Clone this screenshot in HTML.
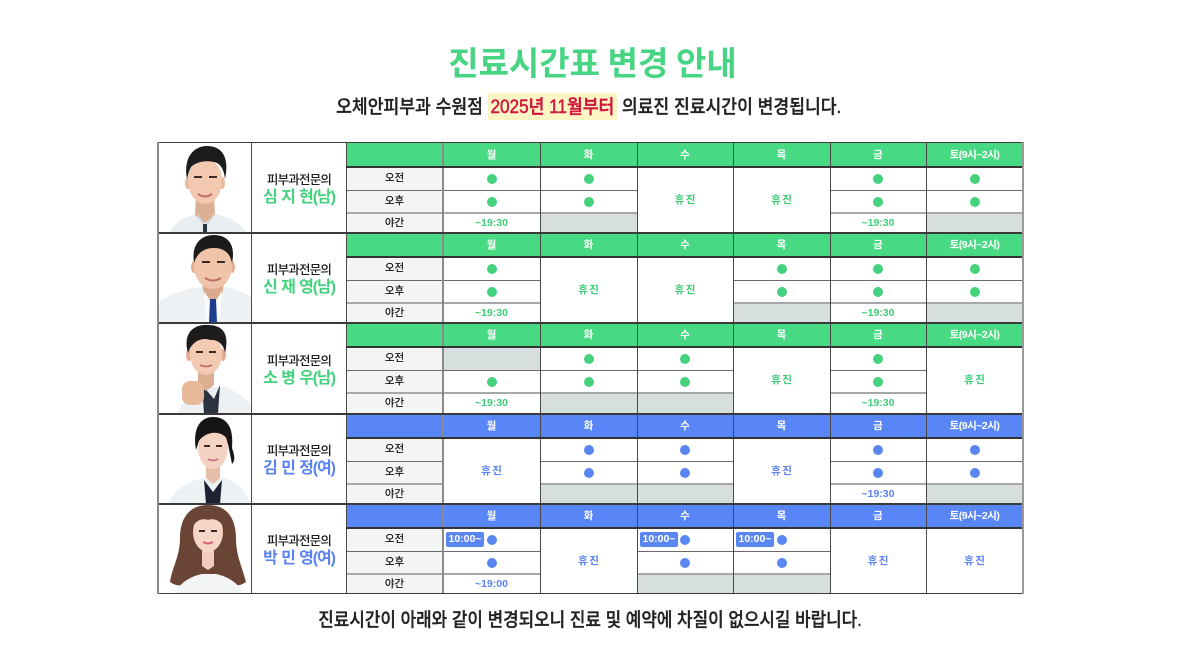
<!DOCTYPE html>
<html lang="ko">
<head>
<meta charset="utf-8">
<style>
html,body{margin:0;padding:0;}
body{width:1182px;height:656px;background:#fff;position:relative;overflow:hidden;font-family:"Liberation Sans","Noto Sans CJK KR",sans-serif;}
.a{position:absolute;}
.c{position:absolute;display:flex;align-items:center;justify-content:center;line-height:1;box-sizing:border-box;white-space:nowrap;}
.hs{position:absolute;height:24px;}
.hg{background:#48d983;}
.hb{background:#5986f6;}
.hd{color:#fff;font-weight:700;font-size:10.5px;}
.lbg{position:absolute;left:346px;width:97px;background:#f3f5f3;}
.lb{font-size:10.5px;color:#111;font-weight:500;}
.gr{position:absolute;background:#d6dfde;}
.vl{position:absolute;top:143px;height:451px;width:1px;background:#484848;}
.hl{position:absolute;height:1px;background:#6a6a6a;}
.hl2{position:absolute;height:2px;background:#a8a8a8;}
.sep{position:absolute;left:157px;width:866px;height:2px;background:#3a3a3a;}
.hbl{position:absolute;left:346px;width:677px;height:2px;background:#333;}
i.dg,i.db{display:block;width:10px;height:10px;border-radius:50%;}
i.dg{background:#45d27e;}
i.db{background:#5a86f2;}
.tg{color:#3ecd77;font-weight:700;font-size:10.5px;}
.tb{color:#5a83ee;font-weight:700;font-size:10.5px;}
.hz{letter-spacing:1.5px;padding-left:1.5px;}
.nm{position:absolute;left:252px;width:94px;display:flex;flex-direction:column;align-items:center;justify-content:center;padding-top:3px;box-sizing:border-box;}
.nm .t1{font-size:12.5px;letter-spacing:-0.8px;color:#1a1a1a;line-height:17px;font-weight:500;}
.nm .t2{font-size:16px;letter-spacing:-1.1px;word-spacing:1px;font-weight:700;line-height:18px;}
.badge{position:absolute;width:38px;height:15px;background:#5a86f2;border-radius:2px;color:#fff;font-weight:700;font-size:10.5px;display:flex;align-items:center;justify-content:center;line-height:1;}
.ph{position:absolute;left:158px;width:94px;height:90px;}
</style>
</head>
<body>

<!-- Title -->
<div class="a" style="left:1.5px;top:46.6px;width:1182px;text-align:center;font-size:33px;line-height:1;font-weight:700;color:#47d584;word-spacing:-1.5px;">진료시간표 변경 안내</div>

<!-- Subtitle -->
<div class="a" style="left:-2px;top:98px;width:1182px;text-align:center;font-size:19px;line-height:1;">
<span style="display:inline-block;transform:scaleX(0.903);transform-origin:center;font-weight:500;color:#222;-webkit-text-stroke:0.35px #222;">오체안피부과 수원점 <span style="background:#fbf6c4;color:#d0183f;padding:4px 3px 2px;-webkit-text-stroke:0.5px #d0183f;">2025년 11월부터</span> 의료진 진료시간이 변경됩니다.</span>
</div>

<!-- Photos -->
<svg class="ph" style="top:143px" viewBox="0 0 94 90">
<path d="M12 90 C16 78 30 73 40 71 L56 71 C68 73 82 78 88 90 Z" fill="#e9eef1"/>
<path d="M38 52 L56 52 L57 72 L47 80 L37 72 Z" fill="#dcae92"/>
<path d="M40 71 L47 84 L56 71" fill="none" stroke="#c5cfd6" stroke-width="1.5"/>
<rect x="45" y="81" width="4" height="9" fill="#2a3440"/>
<ellipse cx="30" cy="40" rx="3" ry="6" fill="#e6b79c"/>
<ellipse cx="64" cy="40" rx="3" ry="6" fill="#e6b79c"/>
<ellipse cx="47" cy="38" rx="17" ry="23" fill="#f2c9b0"/>
<path d="M29 36 C25 14 36 3 49 3 C63 3 72 13 67 36 C66 26 62 20 56 19 C47 17 38 19 33 24 C31 28 30 32 29 36 Z" fill="#1d1b1c"/>
<rect x="36" y="33" width="8" height="2" fill="#3a2a25"/><rect x="51" y="33" width="8" height="2" fill="#3a2a25"/>
<path d="M40 51 Q47 56 54 51" fill="none" stroke="#c06c70" stroke-width="2"/>
</svg>

<svg class="ph" style="top:233px" viewBox="0 0 94 90">
<path d="M0 90 L0 70 C10 61 28 56 42 54 L68 54 C80 57 92 62 94 66 L94 90 Z" fill="#eef1f3"/>
<path d="M44 50 L66 50 L64 62 L55 70 L46 62 Z" fill="#dba98e"/>
<path d="M46 58 L55 72 L64 58 L62 90 L48 90 Z" fill="#fafafa"/>
<path d="M52 66 L58 66 L59 90 L51 90 Z" fill="#1c3f8c"/>
<ellipse cx="36" cy="34" rx="3" ry="6" fill="#e3ad92"/>
<ellipse cx="74" cy="34" rx="3" ry="6" fill="#e3ad92"/>
<ellipse cx="55" cy="33" rx="19" ry="23" fill="#f0c4a8"/>
<path d="M36 30 C33 10 44 2 56 2 C70 2 78 12 74 30 C72 20 66 15 56 15 C46 15 39 20 36 30 Z" fill="#1c1a1a"/>
<rect x="44" y="28" width="8" height="2" fill="#3a2a25"/><rect x="59" y="28" width="8" height="2" fill="#3a2a25"/>
<path d="M47 45 Q55 50 63 45" fill="none" stroke="#c06c70" stroke-width="2"/>
</svg>

<svg class="ph" style="top:323px" viewBox="0 0 94 90">
<path d="M20 90 C26 74 40 66 52 64 L66 64 C78 68 90 76 94 84 L94 90 Z" fill="#edf0f2"/>
<path d="M44 62 L56 76 L62 62 L60 90 L46 90 Z" fill="#2b3240"/>
<path d="M40 46 L56 46 L56 62 L48 68 L40 62 Z" fill="#dcae92"/>
<ellipse cx="31" cy="32" rx="3" ry="6" fill="#e3ad92"/>
<ellipse cx="65" cy="32" rx="3" ry="6" fill="#e3ad92"/>
<ellipse cx="48" cy="31" rx="16" ry="21" fill="#f2cbb2"/>
<path d="M30 30 C24 8 38 1 50 2 C64 2 72 10 67 30 C66 22 60 16 52 17 C44 14 34 18 30 30 Z" fill="#1d1b1c"/>
<rect x="24" y="58" width="22" height="24" rx="8" fill="#e7b899"/>
<rect x="38" y="28" width="7" height="2" fill="#3a2a25"/><rect x="51" y="28" width="7" height="2" fill="#3a2a25"/>
<path d="M42 42 Q48 45 54 42" fill="none" stroke="#b86a6a" stroke-width="1.8"/>
</svg>

<svg class="ph" style="top:414px" viewBox="0 0 94 90">
<path d="M10 90 C16 74 34 66 46 64 L64 64 C76 66 88 74 92 90 Z" fill="#eef1f3"/>
<path d="M46 66 L55 78 L64 66 L62 90 L48 90 Z" fill="#1d2230"/>
<path d="M48 48 L62 48 L62 64 L55 70 L48 64 Z" fill="#e7bfa8"/>
<path d="M38 36 C34 12 44 3 55 3 C68 3 76 12 74 34 C76 40 78 46 74 50 L70 30 C66 20 60 16 55 16 C48 16 42 22 40 30 Z" fill="#161414"/>
<ellipse cx="55" cy="34" rx="15" ry="21" fill="#f5d3c3"/>
<path d="M40 28 C40 14 48 9 56 9 C64 9 70 14 70 26 C64 16 48 16 40 28 Z" fill="#161414"/>
<rect x="46" y="31" width="6" height="2" fill="#3a2a25"/><rect x="58" y="31" width="6" height="2" fill="#3a2a25"/>
<path d="M50 45 Q55 48 60 45" fill="none" stroke="#cf6c80" stroke-width="1.8"/>
</svg>

<svg class="ph" style="top:504px" viewBox="0 0 94 90">
<path d="M50 1 C30 1 22 16 22 34 C22 52 14 64 12 78 C20 84 30 82 36 74 L64 74 C70 82 80 84 88 78 C84 62 78 52 78 34 C78 16 70 1 50 1 Z" fill="#6a4535"/>
<path d="M16 90 C22 78 34 72 44 70 L58 70 C68 72 80 78 86 90 Z" fill="#f3f4f6"/>
<path d="M44 44 L56 44 L56 62 L50 66 L44 62 Z" fill="#f0cdbd"/>
<ellipse cx="50" cy="28" rx="15" ry="20" fill="#f6d5c6"/>
<path d="M34 24 C34 10 42 5 50 5 C60 5 66 10 66 24 C62 16 56 14 50 16 C44 14 38 16 34 24 Z" fill="#6a4535"/>
<rect x="41" y="26" width="6" height="2" fill="#3a2a25"/><rect x="53" y="26" width="6" height="2" fill="#3a2a25"/>
<path d="M45 38 Q50 41 55 38" fill="none" stroke="#e0607c" stroke-width="2"/>
</svg>

<!-- Names -->
<div class="nm" style="top:143px;height:90px;"><div class="t1">피부과전문의</div><div class="t2" style="color:#45d27e;">심 지 현(남)</div></div>
<div class="nm" style="top:233px;height:90px;"><div class="t1">피부과전문의</div><div class="t2" style="color:#45d27e;">신 재 영(남)</div></div>
<div class="nm" style="top:323px;height:91px;"><div class="t1">피부과전문의</div><div class="t2" style="color:#45d27e;">소 병 우(남)</div></div>
<div class="nm" style="top:414px;height:90px;"><div class="t1">피부과전문의</div><div class="t2" style="color:#5a83ee;">김 민 정(여)</div></div>
<div class="nm" style="top:504px;height:90px;"><div class="t1">피부과전문의</div><div class="t2" style="color:#5a83ee;">박 민 영(여)</div></div>

<!-- Header strips -->
<div class="hs hg" style="left:346px;top:143px;width:677px;"></div>
<div class="hs hg" style="left:346px;top:233px;width:677px;"></div>
<div class="hs hg" style="left:346px;top:323px;width:677px;"></div>
<div class="hs hb" style="left:346px;top:414px;width:677px;"></div>
<div class="hs hb" style="left:346px;top:504px;width:677px;"></div>

<!-- Label column backgrounds -->
<div class="lbg" style="top:167px;height:66px;"></div>
<div class="lbg" style="top:257px;height:66px;"></div>
<div class="lbg" style="top:347px;height:67px;"></div>
<div class="lbg" style="top:438px;height:66px;"></div>
<div class="lbg" style="top:528px;height:66px;"></div>

<!-- Gray cells -->
<div class="gr" style="left:540px;top:213px;width:97px;height:20px;"></div>
<div class="gr" style="left:926px;top:213px;width:97px;height:20px;"></div>
<div class="gr" style="left:733px;top:303px;width:97px;height:20px;"></div>
<div class="gr" style="left:926px;top:303px;width:97px;height:20px;"></div>
<div class="gr" style="left:443px;top:347px;width:97px;height:23px;"></div>
<div class="gr" style="left:540px;top:393px;width:97px;height:21px;"></div>
<div class="gr" style="left:637px;top:393px;width:96px;height:21px;"></div>
<div class="gr" style="left:540px;top:484px;width:97px;height:20px;"></div>
<div class="gr" style="left:637px;top:484px;width:96px;height:20px;"></div>
<div class="gr" style="left:926px;top:484px;width:97px;height:20px;"></div>
<div class="gr" style="left:637px;top:574px;width:96px;height:20px;"></div>
<div class="gr" style="left:733px;top:574px;width:97px;height:20px;"></div>

<!-- Row lines -->
<div class="hl" style="left:346px;top:190px;width:291px;"></div>
<div class="hl" style="left:830px;top:190px;width:193px;"></div>
<div class="hl2" style="left:346px;top:212px;width:291px;"></div>
<div class="hl2" style="left:830px;top:212px;width:193px;"></div>
<div class="hl" style="left:346px;top:280px;width:194px;"></div>
<div class="hl" style="left:733px;top:280px;width:290px;"></div>
<div class="hl2" style="left:346px;top:302px;width:194px;"></div>
<div class="hl2" style="left:733px;top:302px;width:290px;"></div>
<div class="hl" style="left:346px;top:370px;width:387px;"></div>
<div class="hl" style="left:830px;top:370px;width:96px;"></div>
<div class="hl2" style="left:346px;top:392px;width:387px;"></div>
<div class="hl2" style="left:830px;top:392px;width:96px;"></div>
<div class="hl" style="left:346px;top:461px;width:97px;"></div>
<div class="hl" style="left:540px;top:461px;width:193px;"></div>
<div class="hl" style="left:830px;top:461px;width:193px;"></div>
<div class="hl2" style="left:346px;top:483px;width:97px;"></div>
<div class="hl2" style="left:540px;top:483px;width:193px;"></div>
<div class="hl2" style="left:830px;top:483px;width:193px;"></div>
<div class="hl" style="left:346px;top:551px;width:194px;"></div>
<div class="hl" style="left:637px;top:551px;width:193px;"></div>
<div class="hl2" style="left:346px;top:573px;width:194px;"></div>
<div class="hl2" style="left:637px;top:573px;width:193px;"></div>

<!-- Vertical lines -->
<div class="vl" style="left:251px;"></div>
<div class="vl" style="left:346px;"></div>
<div class="vl" style="left:442px;width:2px;background:#8a8a8a;"></div>
<div class="vl" style="left:540px;"></div>
<div class="vl" style="left:637px;"></div>
<div class="vl" style="left:733px;"></div>
<div class="vl" style="left:830px;"></div>
<div class="vl" style="left:926px;"></div>

<!-- Header bottom lines -->
<div class="hbl" style="top:166px;"></div>
<div class="hbl" style="top:256px;"></div>
<div class="hbl" style="top:346px;"></div>
<div class="hbl" style="top:437px;"></div>
<div class="hbl" style="top:527px;"></div>

<!-- Block separators / outer border -->
<div class="sep" style="top:142px;height:1px;"></div>
<div class="sep" style="top:232px;"></div>
<div class="sep" style="top:322px;"></div>
<div class="sep" style="top:413px;"></div>
<div class="sep" style="top:503px;"></div>
<div class="sep" style="top:593px;height:1px;"></div>
<div class="a" style="left:157px;top:142px;width:2px;height:452px;background:#8a8a8a;"></div>
<div class="a" style="left:1022px;top:142px;width:2px;height:452px;background:#9a9a9a;"></div>

<!-- ===== Block 1 ===== -->
<div class="c hd" style="left:443px;top:143px;width:97px;height:24px;">월</div>
<div class="c hd" style="left:540px;top:143px;width:97px;height:24px;">화</div>
<div class="c hd" style="left:637px;top:143px;width:96px;height:24px;">수</div>
<div class="c hd" style="left:733px;top:143px;width:97px;height:24px;">목</div>
<div class="c hd" style="left:830px;top:143px;width:96px;height:24px;">금</div>
<div class="c hd" style="left:926px;top:143px;width:97px;height:24px;letter-spacing:-0.5px;">토(9시~2시)</div>
<div class="c lb" style="left:346px;top:167px;width:97px;height:23px;">오전</div>
<div class="c lb" style="left:346px;top:190px;width:97px;height:23px;">오후</div>
<div class="c lb" style="left:346px;top:213px;width:97px;height:20px;">야간</div>
<div class="c" style="left:443px;top:167px;width:97px;height:23px;"><i class="dg"></i></div>
<div class="c" style="left:443px;top:190px;width:97px;height:23px;"><i class="dg"></i></div>
<div class="c tg" style="left:443px;top:213px;width:97px;height:20px;">~19:30</div>
<div class="c" style="left:540px;top:167px;width:97px;height:23px;"><i class="dg"></i></div>
<div class="c" style="left:540px;top:190px;width:97px;height:23px;"><i class="dg"></i></div>
<div class="c tg hz" style="left:637px;top:167px;width:96px;height:66px;">휴진</div>
<div class="c tg hz" style="left:733px;top:167px;width:97px;height:66px;">휴진</div>
<div class="c" style="left:830px;top:167px;width:96px;height:23px;"><i class="dg"></i></div>
<div class="c" style="left:830px;top:190px;width:96px;height:23px;"><i class="dg"></i></div>
<div class="c tg" style="left:830px;top:213px;width:96px;height:20px;">~19:30</div>
<div class="c" style="left:926px;top:167px;width:97px;height:23px;"><i class="dg"></i></div>
<div class="c" style="left:926px;top:190px;width:97px;height:23px;"><i class="dg"></i></div>

<!-- ===== Block 2 ===== -->
<div class="c hd" style="left:443px;top:233px;width:97px;height:24px;">월</div>
<div class="c hd" style="left:540px;top:233px;width:97px;height:24px;">화</div>
<div class="c hd" style="left:637px;top:233px;width:96px;height:24px;">수</div>
<div class="c hd" style="left:733px;top:233px;width:97px;height:24px;">목</div>
<div class="c hd" style="left:830px;top:233px;width:96px;height:24px;">금</div>
<div class="c hd" style="left:926px;top:233px;width:97px;height:24px;letter-spacing:-0.5px;">토(9시~2시)</div>
<div class="c lb" style="left:346px;top:257px;width:97px;height:23px;">오전</div>
<div class="c lb" style="left:346px;top:280px;width:97px;height:23px;">오후</div>
<div class="c lb" style="left:346px;top:303px;width:97px;height:20px;">야간</div>
<div class="c" style="left:443px;top:257px;width:97px;height:23px;"><i class="dg"></i></div>
<div class="c" style="left:443px;top:280px;width:97px;height:23px;"><i class="dg"></i></div>
<div class="c tg" style="left:443px;top:303px;width:97px;height:20px;">~19:30</div>
<div class="c tg hz" style="left:540px;top:257px;width:97px;height:66px;">휴진</div>
<div class="c tg hz" style="left:637px;top:257px;width:96px;height:66px;">휴진</div>
<div class="c" style="left:733px;top:257px;width:97px;height:23px;"><i class="dg"></i></div>
<div class="c" style="left:733px;top:280px;width:97px;height:23px;"><i class="dg"></i></div>
<div class="c" style="left:830px;top:257px;width:96px;height:23px;"><i class="dg"></i></div>
<div class="c" style="left:830px;top:280px;width:96px;height:23px;"><i class="dg"></i></div>
<div class="c tg" style="left:830px;top:303px;width:96px;height:20px;">~19:30</div>
<div class="c" style="left:926px;top:257px;width:97px;height:23px;"><i class="dg"></i></div>
<div class="c" style="left:926px;top:280px;width:97px;height:23px;"><i class="dg"></i></div>

<!-- ===== Block 3 ===== -->
<div class="c hd" style="left:443px;top:323px;width:97px;height:24px;">월</div>
<div class="c hd" style="left:540px;top:323px;width:97px;height:24px;">화</div>
<div class="c hd" style="left:637px;top:323px;width:96px;height:24px;">수</div>
<div class="c hd" style="left:733px;top:323px;width:97px;height:24px;">목</div>
<div class="c hd" style="left:830px;top:323px;width:96px;height:24px;">금</div>
<div class="c hd" style="left:926px;top:323px;width:97px;height:24px;letter-spacing:-0.5px;">토(9시~2시)</div>
<div class="c lb" style="left:346px;top:347px;width:97px;height:23px;">오전</div>
<div class="c lb" style="left:346px;top:370px;width:97px;height:23px;">오후</div>
<div class="c lb" style="left:346px;top:393px;width:97px;height:21px;">야간</div>
<div class="c" style="left:443px;top:370px;width:97px;height:23px;"><i class="dg"></i></div>
<div class="c tg" style="left:443px;top:393px;width:97px;height:21px;">~19:30</div>
<div class="c" style="left:540px;top:347px;width:97px;height:23px;"><i class="dg"></i></div>
<div class="c" style="left:540px;top:370px;width:97px;height:23px;"><i class="dg"></i></div>
<div class="c" style="left:637px;top:347px;width:96px;height:23px;"><i class="dg"></i></div>
<div class="c" style="left:637px;top:370px;width:96px;height:23px;"><i class="dg"></i></div>
<div class="c tg hz" style="left:733px;top:347px;width:97px;height:67px;">휴진</div>
<div class="c" style="left:830px;top:347px;width:96px;height:23px;"><i class="dg"></i></div>
<div class="c" style="left:830px;top:370px;width:96px;height:23px;"><i class="dg"></i></div>
<div class="c tg" style="left:830px;top:393px;width:96px;height:21px;">~19:30</div>
<div class="c tg hz" style="left:926px;top:347px;width:97px;height:67px;">휴진</div>

<!-- ===== Block 4 ===== -->
<div class="c hd" style="left:443px;top:414px;width:97px;height:24px;">월</div>
<div class="c hd" style="left:540px;top:414px;width:97px;height:24px;">화</div>
<div class="c hd" style="left:637px;top:414px;width:96px;height:24px;">수</div>
<div class="c hd" style="left:733px;top:414px;width:97px;height:24px;">목</div>
<div class="c hd" style="left:830px;top:414px;width:96px;height:24px;">금</div>
<div class="c hd" style="left:926px;top:414px;width:97px;height:24px;letter-spacing:-0.5px;">토(9시~2시)</div>
<div class="c lb" style="left:346px;top:438px;width:97px;height:23px;">오전</div>
<div class="c lb" style="left:346px;top:461px;width:97px;height:23px;">오후</div>
<div class="c lb" style="left:346px;top:484px;width:97px;height:20px;">야간</div>
<div class="c tb hz" style="left:443px;top:438px;width:97px;height:66px;">휴진</div>
<div class="c" style="left:540px;top:438px;width:97px;height:23px;"><i class="db"></i></div>
<div class="c" style="left:540px;top:461px;width:97px;height:23px;"><i class="db"></i></div>
<div class="c" style="left:637px;top:438px;width:96px;height:23px;"><i class="db"></i></div>
<div class="c" style="left:637px;top:461px;width:96px;height:23px;"><i class="db"></i></div>
<div class="c tb hz" style="left:733px;top:438px;width:97px;height:66px;">휴진</div>
<div class="c" style="left:830px;top:438px;width:96px;height:23px;"><i class="db"></i></div>
<div class="c" style="left:830px;top:461px;width:96px;height:23px;"><i class="db"></i></div>
<div class="c tb" style="left:830px;top:484px;width:96px;height:20px;">~19:30</div>
<div class="c" style="left:926px;top:438px;width:97px;height:23px;"><i class="db"></i></div>
<div class="c" style="left:926px;top:461px;width:97px;height:23px;"><i class="db"></i></div>

<!-- ===== Block 5 ===== -->
<div class="c hd" style="left:443px;top:504px;width:97px;height:24px;">월</div>
<div class="c hd" style="left:540px;top:504px;width:97px;height:24px;">화</div>
<div class="c hd" style="left:637px;top:504px;width:96px;height:24px;">수</div>
<div class="c hd" style="left:733px;top:504px;width:97px;height:24px;">목</div>
<div class="c hd" style="left:830px;top:504px;width:96px;height:24px;">금</div>
<div class="c hd" style="left:926px;top:504px;width:97px;height:24px;letter-spacing:-0.5px;">토(9시~2시)</div>
<div class="c lb" style="left:346px;top:528px;width:97px;height:23px;">오전</div>
<div class="c lb" style="left:346px;top:551px;width:97px;height:23px;">오후</div>
<div class="c lb" style="left:346px;top:574px;width:97px;height:20px;">야간</div>
<div class="badge" style="left:446px;top:532px;">10:00~</div>
<div class="c" style="left:443px;top:528px;width:97px;height:23px;"><i class="db"></i></div>
<div class="c" style="left:443px;top:551px;width:97px;height:23px;"><i class="db"></i></div>
<div class="c tb" style="left:443px;top:574px;width:97px;height:20px;">~19:00</div>
<div class="c tb hz" style="left:540px;top:528px;width:97px;height:66px;">휴진</div>
<div class="badge" style="left:640px;top:532px;">10:00~</div>
<div class="c" style="left:637px;top:528px;width:96px;height:23px;"><i class="db"></i></div>
<div class="c" style="left:637px;top:551px;width:96px;height:23px;"><i class="db"></i></div>
<div class="badge" style="left:736px;top:532px;">10:00~</div>
<div class="c" style="left:733px;top:528px;width:97px;height:23px;"><i class="db"></i></div>
<div class="c" style="left:733px;top:551px;width:97px;height:23px;"><i class="db"></i></div>
<div class="c tb hz" style="left:830px;top:528px;width:96px;height:66px;">휴진</div>
<div class="c tb hz" style="left:926px;top:528px;width:97px;height:66px;">휴진</div>

<!-- Footer -->
<div class="a" style="left:-1px;top:610.5px;width:1182px;text-align:center;font-size:19px;line-height:1;">
<span style="display:inline-block;transform:scaleX(0.888);transform-origin:center;font-weight:500;color:#222;-webkit-text-stroke:0.35px #222;">진료시간이 아래와 같이 변경되오니 진료 및 예약에 차질이 없으시길 바랍니다.</span>
</div>

</body>
</html>
